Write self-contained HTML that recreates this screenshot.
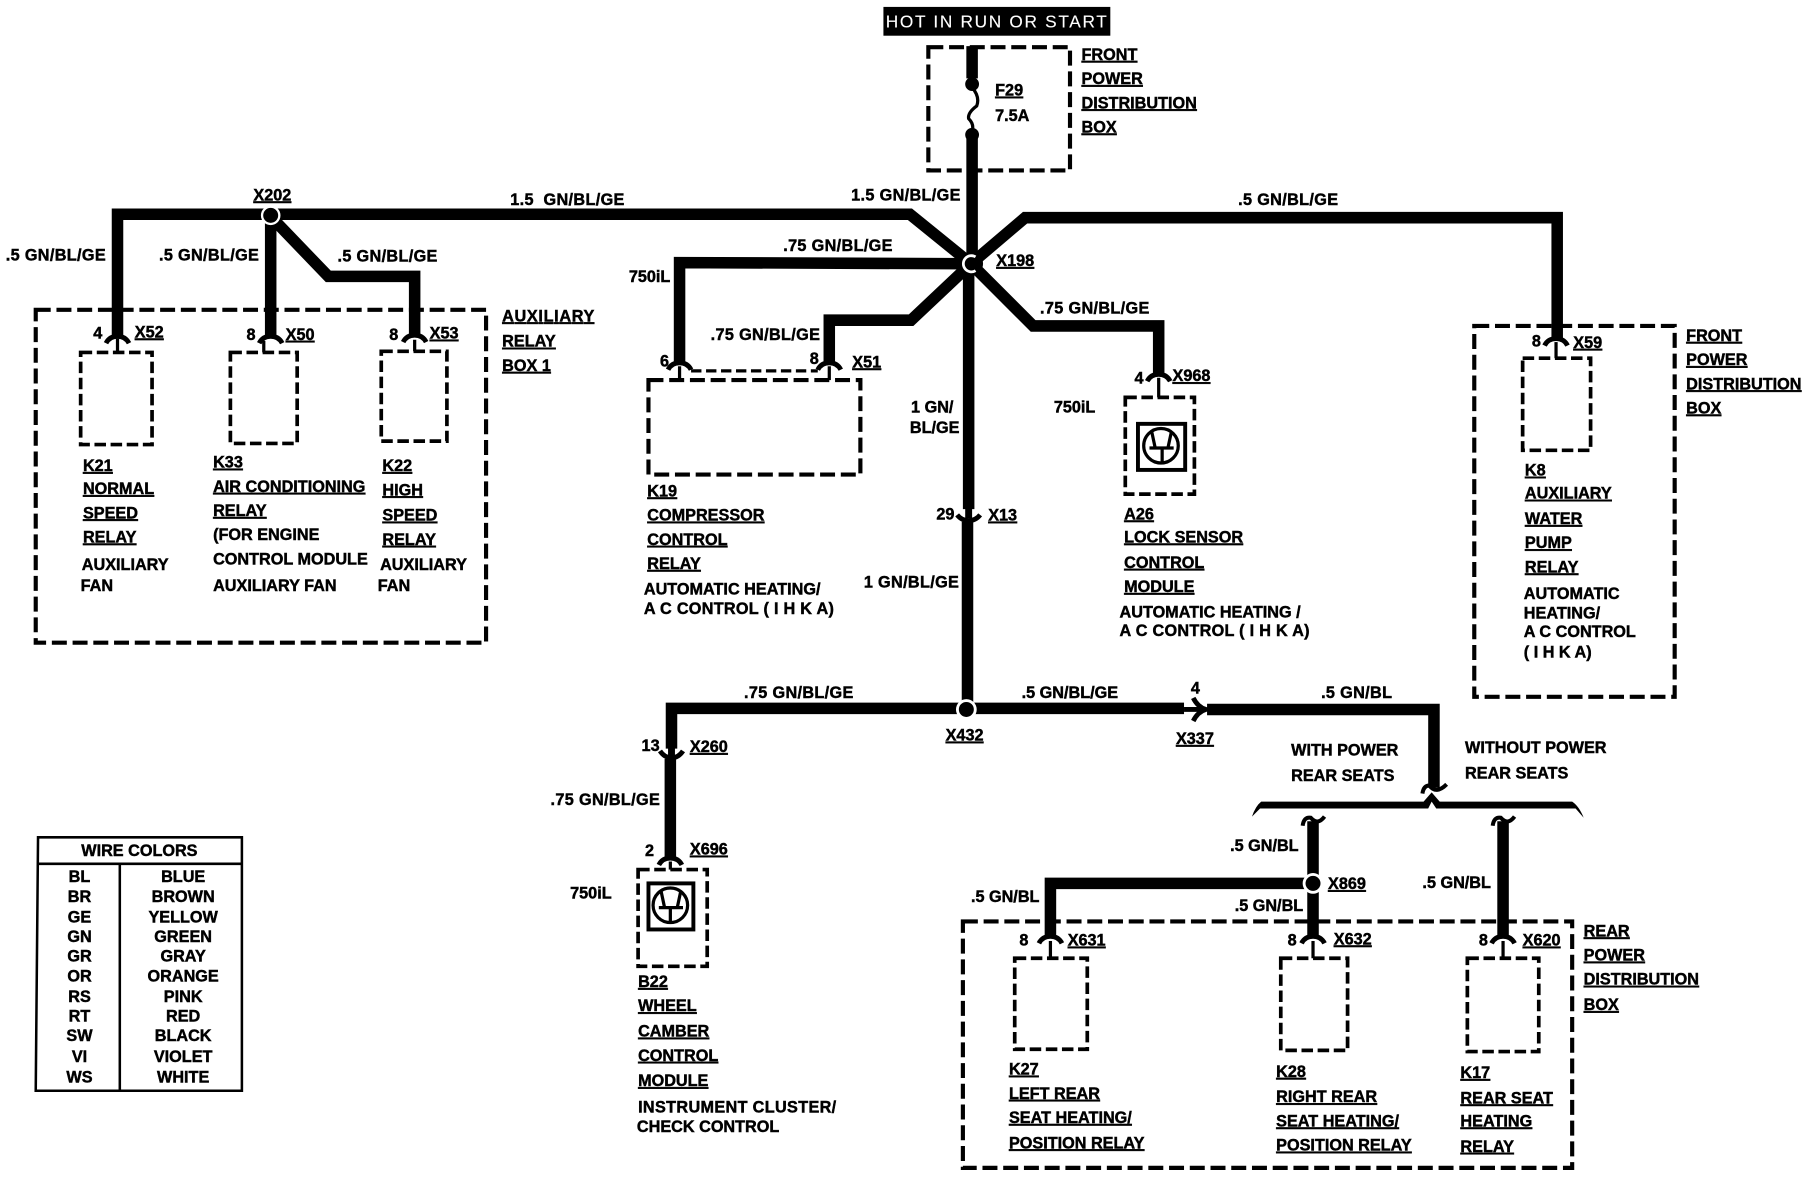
<!DOCTYPE html>
<html>
<head>
<meta charset="utf-8">
<style>
html,body{margin:0;padding:0;background:#fff}
svg{display:block}
text{font-family:"Liberation Sans",Arial,sans-serif;font-weight:bold;font-size:14.1px;fill:#000;stroke:#000;stroke-width:.4}
.u{text-decoration:underline;text-decoration-thickness:1.7px;text-underline-offset:2px}
.l{letter-spacing:.3px}
.w{fill:none;stroke:#000;stroke-width:10;stroke-linejoin:miter}
.d{fill:none;stroke:#000;stroke-width:3.6;stroke-dasharray:13 5}
.ds{fill:none;stroke:#000;stroke-width:3.2;stroke-dasharray:10 4}
.c{fill:none;stroke:#000;stroke-width:4.2}
.s{fill:none;stroke:#000;stroke-width:2.8}
.m{text-anchor:middle}
</style>
</head>
<body>
<svg xmlns="http://www.w3.org/2000/svg" width="1806" height="1184" viewBox="0 0 1568 1028">
<rect width="1568" height="1028" fill="#fff"/>

<!-- title -->
<rect x="767" y="6" width="197" height="25" fill="#000"/>
<text x="769" y="24" style="fill:#fff;stroke:#fff;stroke-width:.1;font-weight:normal;font-size:15px" textLength="192">HOT IN RUN OR START</text>

<!-- boxes -->
<rect class="d" x="806" y="41" width="123" height="107"/>
<rect class="d" x="31" y="269" width="391" height="289"/>
<rect class="ds" x="70" y="306" width="62" height="80"/>
<rect class="ds" x="200" y="306" width="58" height="79"/>
<rect class="ds" x="331" y="305" width="57" height="78"/>
<rect class="d" x="563" y="330" width="184" height="82"/>
<path class="s" stroke-dasharray="9 4" d="M600 322H710"/>
<rect class="d" x="1280" y="283" width="174" height="322"/>
<rect class="ds" x="1322" y="311" width="59" height="80"/>
<rect class="ds" x="977" y="345" width="60" height="84"/>
<rect class="ds" x="554" y="755" width="60" height="84"/>
<rect class="d" x="836" y="800" width="529" height="214"/>
<rect class="ds" x="881" y="832" width="63" height="79"/>
<rect class="ds" x="1112" y="832" width="58" height="80"/>
<rect class="ds" x="1274" y="832" width="62" height="81"/>

<!-- wires -->
<path class="w" d="M844 40V68M844 120V230M841 230V442M840 453V612"/>
<path class="s" style="stroke-width:6" d="M841 440V450"/>
<path class="w" d="M102 293V186H790L843 229"/>
<path class="w" d="M235 187V293"/>
<path class="w" d="M237 190L285 240H360V292"/>
<path class="w" d="M843 229L890 189H1352V295"/>
<path class="w" d="M843 229L590 228V316"/>
<path class="w" d="M843 229L791 278H720V316"/>
<path class="w" d="M843 229L897 283H1006V326"/>
<path class="w" d="M583 650V615H1028"/>
<path class="s" style="stroke-width:6" d="M583 648V656"/>
<path class="w" d="M1048 616H1245V684"/>
<path class="w" d="M582 659V746"/>
<path class="w" d="M1140 713V814"/>
<path class="w" d="M1305 713V814"/>
<path class="w" d="M1140 767H912V814"/>

<!-- fuse -->
<circle cx="844" cy="73" r="6"/>
<circle cx="844" cy="117" r="6"/>
<path class="s" d="M844 76Q851 84 848 92Q840 98 841 103Q846 108 844 114"/>

<!-- splices -->
<circle cx="235" cy="187" r="8.5" fill="#fff"/>
<circle cx="235" cy="187" r="6.5"/>
<circle cx="839" cy="616" r="9" fill="#fff"/>
<circle cx="839" cy="616" r="6.5"/>
<circle cx="1140" cy="767" r="9" fill="#fff"/>
<circle cx="1140" cy="767" r="6.5"/>
<circle cx="843" cy="229" r="10.5"/>
<path d="M847 223A7 7 0 1 0 847 235" fill="none" stroke="#fff" stroke-width="2.4"/>

<!-- connector forks -->
<g>
<path class="c" d="M92 298Q95 292 102 292Q109 292 112 298"/><path class="s" d="M102 294V306"/>
<path class="c" d="M225 298Q228 292 235 292Q242 292 245 298"/><path class="s" d="M229 296V306"/>
<path class="c" d="M350 297Q353 291 360 291Q367 291 370 297"/><path class="s" d="M360 295V305"/>
<path class="c" d="M580 321Q583 315 590 315Q597 315 600 321"/><path class="s" d="M590 318V330"/>
<path class="c" d="M710 321Q713 315 720 315Q727 315 730 321"/><path class="s" d="M720 318V330"/>
<path class="c" d="M996 331Q999 325 1006 325Q1013 325 1016 331"/><path class="s" d="M1006 328V345"/>
<path class="c" d="M1341 300Q1344 294 1351 294Q1358 294 1361 300"/><path class="s" d="M1351 297V311"/>
<path class="c" d="M831 447Q835 452 841 452Q847 452 851 447"/>
<path class="c" d="M573 652Q577 658 583 658Q589 658 593 652"/>
<path class="c" d="M572 751Q575 745 582 745Q589 745 592 751"/><path class="s" d="M582 748V755"/>
<path class="c" d="M902 819Q905 813 912 813Q919 813 922 819"/><path class="s" d="M912 817V832"/>
<path class="c" d="M1130 819Q1133 813 1140 813Q1147 813 1150 819"/><path class="s" d="M1140 817V832"/>
<path class="c" d="M1295 819Q1298 813 1305 813Q1312 813 1315 819"/><path class="s" d="M1305 817V832"/>
<!-- X337 arrow -->
<path class="c" d="M1028 616H1042"/>
<path class="c" d="M1036 606Q1040 614 1047 616Q1040 618 1036 626"/>
<!-- tildes near bracket -->
<path class="c" style="stroke-width:3.5" d="M1235 689Q1236 682 1241 682Q1247 690 1256 681"/>
<path class="c" style="stroke-width:3.5" d="M1131 717Q1132 709 1138 710Q1144 717 1150 709"/>
<path class="c" style="stroke-width:3.5" d="M1296 717Q1297 709 1303 710Q1309 717 1315 709"/>
</g>
<!-- bracket -->
<path fill="#000" d="M1087 709Q1090 700 1095 696H1236L1243 688L1250 696H1365Q1371 700 1375 710L1368 702H1247L1243 696L1240 702H1094Z"/>

<!-- sensors -->
<rect class="c" style="stroke-width:3.4" x="988" y="368" width="41" height="40"/>
<circle class="s" cx="1008" cy="387" r="15"/>
<path class="s" d="M1000 375L1003 389H1014L1017 375M1009 389V402M998 389H1019"/>
<rect class="c" style="stroke-width:3.4" x="563" y="767" width="39" height="40"/>
<circle class="s" cx="582" cy="786" r="15"/>
<path class="s" d="M574 774L577 788H588L591 774M582 788V801M572 788H593"/>

<!-- wire labels -->
<text class="l" x="443" y="178">1.5&#160; GN/BL/GE</text>
<text class="l" x="5" y="226">.5 GN/BL/GE</text>
<text class="l" x="138" y="226">.5 GN/BL/GE</text>
<text class="l" x="293" y="227">.5 GN/BL/GE</text>
<text class="l" x="739" y="174">1.5 GN/BL/GE</text>
<text class="l" x="1075" y="178">.5 GN/BL/GE</text>
<text class="l" x="680" y="218">.75 GN/BL/GE</text>
<text class="l" x="617" y="295">.75 GN/BL/GE</text>
<text class="l" x="903" y="272">.75 GN/BL/GE</text>
<text x="791" y="358">1 GN/</text>
<text x="790" y="376">BL/GE</text>
<text class="l" x="750" y="510">1 GN/BL/GE</text>
<text class="l" x="646" y="606">.75 GN/BL/GE</text>
<text x="887" y="606">.5 GN/BL/GE</text>
<text class="l" x="1147" y="606">.5 GN/BL</text>
<text class="l" x="478" y="699">.75 GN/BL/GE</text>
<text x="1068" y="739">.5 GN/BL</text>
<text x="843" y="783">.5 GN/BL</text>
<text x="1072" y="791">.5 GN/BL</text>
<text x="1235" y="771">.5 GN/BL</text>
<text x="546" y="245">750iL</text>
<text x="915" y="358">750iL</text>
<text x="495" y="780">750iL</text>

<!-- connector ids -->
<text class="u" x="220" y="174">X202</text>
<text class="u" x="865" y="231">X198</text>
<text class="u" x="117" y="293">X52</text>
<text class="u" x="248" y="295">X50</text>
<text class="u" x="373" y="294">X53</text>
<text class="u" x="740" y="319">X51</text>
<text class="u" x="1018" y="331">X968</text>
<text class="u" x="858" y="452">X13</text>
<text class="u" x="1366" y="302">X59</text>
<text class="u" x="821" y="643">X432</text>
<text class="u" x="1021" y="646">X337</text>
<text class="u" x="599" y="653">X260</text>
<text class="u" x="599" y="742">X696</text>
<text class="u" x="1153" y="772">X869</text>
<text class="u" x="927" y="821">X631</text>
<text class="u" x="1158" y="820">X632</text>
<text class="u" x="1322" y="821">X620</text>

<!-- pin numbers -->
<text x="81" y="294">4</text><text x="214" y="295">8</text><text x="338" y="295">8</text>
<text x="573" y="318">6</text><text x="703" y="316">8</text><text x="985" y="333">4</text>
<text x="813" y="451">29</text><text x="1330" y="301">8</text><text x="1034" y="602">4</text>
<text x="557" y="652">13</text><text x="560" y="743">2</text>
<text x="885" y="821">8</text><text x="1118" y="821">8</text><text x="1284" y="821">8</text>

<!-- front power dist box -->
<text class="u" x="939" y="52">FRONT</text>
<text class="u" x="939" y="73">POWER</text>
<text class="u" x="939" y="94">DISTRIBUTION</text>
<text class="u" x="939" y="115">BOX</text>
<text class="u" x="864" y="83">F29</text>
<text x="864" y="105">7.5A</text>

<!-- aux relay box -->
<text class="u" x="436" y="279" textLength="80">AUXILIARY</text>
<text class="u" x="436" y="301">RELAY</text>
<text class="u" x="436" y="322">BOX 1</text>
<text class="u" x="72" y="409">K21</text>
<text class="u" x="72" y="429">NORMAL</text>
<text class="u" x="72" y="450">SPEED</text>
<text class="u" x="72" y="471">RELAY</text>
<text x="71" y="495">AUXILIARY</text>
<text x="70" y="513">FAN</text>
<text class="u" x="185" y="406">K33</text>
<text class="u" x="185" y="427">AIR CONDITIONING</text>
<text class="u" x="185" y="448">RELAY</text>
<text x="185" y="469">(FOR ENGINE</text>
<text x="185" y="490">CONTROL MODULE</text>
<text x="185" y="513">AUXILIARY FAN</text>
<text class="u" x="332" y="409">K22</text>
<text class="u" x="332" y="430">HIGH</text>
<text class="u" x="332" y="452">SPEED</text>
<text class="u" x="332" y="473">RELAY</text>
<text x="330" y="495">AUXILIARY</text>
<text x="328" y="513">FAN</text>

<!-- K19 -->
<text class="u" x="562" y="431">K19</text>
<text class="u" x="562" y="452">COMPRESSOR</text>
<text class="u" x="562" y="473">CONTROL</text>
<text class="u" x="562" y="494">RELAY</text>
<text x="559" y="516">AUTOMATIC HEATING/</text>
<text x="559" y="533" textLength="165">A C CONTROL ( I H K A)</text>

<!-- A26 -->
<text class="u" x="976" y="451">A26</text>
<text class="u" x="976" y="471">LOCK SENSOR</text>
<text class="u" x="976" y="493">CONTROL</text>
<text class="u" x="976" y="514">MODULE</text>
<text x="972" y="536">AUTOMATIC HEATING /</text>
<text x="972" y="552" textLength="165">A C CONTROL ( I H K A)</text>

<!-- right box -->
<text class="u" x="1464" y="296">FRONT</text>
<text class="u" x="1464" y="317">POWER</text>
<text class="u" x="1464" y="338">DISTRIBUTION</text>
<text class="u" x="1464" y="359">BOX</text>
<text class="u" x="1324" y="413">K8</text>
<text class="u" x="1324" y="433">AUXILIARY</text>
<text class="u" x="1324" y="455">WATER</text>
<text class="u" x="1324" y="476">PUMP</text>
<text class="u" x="1324" y="497">RELAY</text>
<text x="1323" y="520">AUTOMATIC</text>
<text x="1323" y="537">HEATING/</text>
<text x="1323" y="553">A C CONTROL</text>
<text x="1323" y="571">( I H K A)</text>

<!-- B22 -->
<text class="u" x="554" y="857">B22</text>
<text class="u" x="554" y="878">WHEEL</text>
<text class="u" x="554" y="900">CAMBER</text>
<text class="u" x="554" y="921">CONTROL</text>
<text class="u" x="554" y="943">MODULE</text>
<text x="554" y="966" textLength="172">INSTRUMENT CLUSTER/</text>
<text x="553" y="983">CHECK CONTROL</text>

<!-- rear -->
<text x="1121" y="656">WITH POWER</text>
<text x="1121" y="678">REAR SEATS</text>
<text x="1272" y="654">WITHOUT POWER</text>
<text x="1272" y="676">REAR SEATS</text>
<text class="u" x="876" y="933">K27</text>
<text class="u" x="876" y="954">LEFT REAR</text>
<text class="u" x="876" y="975">SEAT HEATING/</text>
<text class="u" x="876" y="997">POSITION RELAY</text>
<text class="u" x="1108" y="935">K28</text>
<text class="u" x="1108" y="957">RIGHT REAR</text>
<text class="u" x="1108" y="978">SEAT HEATING/</text>
<text class="u" x="1108" y="999">POSITION RELAY</text>
<text class="u" x="1268" y="936">K17</text>
<text class="u" x="1268" y="958">REAR SEAT</text>
<text class="u" x="1268" y="978">HEATING</text>
<text class="u" x="1268" y="1000">RELAY</text>
<text class="u" x="1375" y="813">REAR</text>
<text class="u" x="1375" y="834">POWER</text>
<text class="u" x="1375" y="855">DISTRIBUTION</text>
<text class="u" x="1375" y="877">BOX</text>

<!-- legend -->
<path fill="none" stroke="#000" stroke-width="2.2" d="M33 727H210V947H31ZM33 750H210M104 750V947"/>
<text class="m" x="121" y="743">WIRE COLORS</text>
<g class="m">
<text class="m" x="69" y="766">BL</text><text class="m" x="159" y="766">BLUE</text>
<text class="m" x="69" y="783">BR</text><text class="m" x="159" y="783">BROWN</text>
<text class="m" x="69" y="801">GE</text><text class="m" x="159" y="801">YELLOW</text>
<text class="m" x="69" y="818">GN</text><text class="m" x="159" y="818">GREEN</text>
<text class="m" x="69" y="835">GR</text><text class="m" x="159" y="835">GRAY</text>
<text class="m" x="69" y="852">OR</text><text class="m" x="159" y="852">ORANGE</text>
<text class="m" x="69" y="870">RS</text><text class="m" x="159" y="870">PINK</text>
<text class="m" x="69" y="887">RT</text><text class="m" x="159" y="887">RED</text>
<text class="m" x="69" y="904">SW</text><text class="m" x="159" y="904">BLACK</text>
<text class="m" x="69" y="922">VI</text><text class="m" x="159" y="922">VIOLET</text>
<text class="m" x="69" y="940">WS</text><text class="m" x="159" y="940">WHITE</text>
</g>
</svg>
</body>
</html>
